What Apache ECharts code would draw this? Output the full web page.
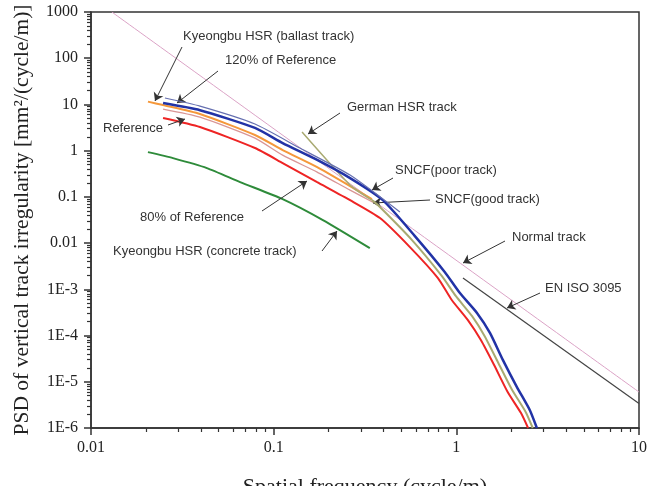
<!DOCTYPE html>
<html>
<head>
<meta charset="utf-8">
<script src="https://cdn.jsdelivr.net/npm/echarts@6/dist/echarts.min.js"></script>
<style>
  html, body { margin: 0; padding: 0; background: #fff; }
  #chart { width: 647px; height: 486px; }
</style>
</head>
<body>
<div id="chart"></div>
<script>
// axis ticks
const xTickValues = [0.01, 0.1, 1, 10];
const xTickLabels = ['0.01', '0.1', '1', '10'];
const yTickValues = [1e-6, 1e-5, 1e-4, 1e-3, 0.01, 0.1, 1, 10, 100, 1000];
const yTickLabels = ['1E-6', '1E-5', '1E-4', '1E-3', '0.01', '0.1', '1', '10', '100', '1000'];

// curves: spatial frequency (cycle/m) / PSD (mm2/(cycle/m))
const ref120Freq = [0.0248, 0.0395, 0.079, 0.112, 0.173, 0.262, 0.396, 0.593, 0.866, 1.046, 1.30, 1.53, 1.80, 2.15, 2.53, 2.76];
const ref120Psd = [10.7, 7.5, 3.1, 1.46, 0.63, 0.255, 0.085, 0.0142, 2.35e-3, 8.3e-4, 3.05e-4, 1.13e-4, 2.94e-5, 7.6e-6, 2.4e-6, 1e-6];

const ref80Freq = [0.0248, 0.0395, 0.079, 0.112, 0.173, 0.262, 0.382, 0.557, 0.793, 0.946, 1.157, 1.365, 1.61, 1.91, 2.26, 2.47];
const ref80Psd = [5.1, 3.25, 1.14, 0.54, 0.209, 0.085, 0.0348, 8.2e-3, 1.75e-3, 5.8e-4, 2.15e-4, 7.9e-5, 2.3e-5, 6e-6, 2.1e-6, 1e-6];

const refFreq = [0.0248, 0.0395, 0.079, 0.112, 0.173, 0.262, 0.358];
const refPsd = [7.9, 5.3, 1.87, 0.80, 0.344, 0.14, 0.073];

const ballastFreq = [0.0205, 0.0248, 0.0395, 0.079, 0.112, 0.173, 0.262, 0.345];
const ballastPsd = [11.5, 9.7, 6.2, 2.18, 1.03, 0.44, 0.171, 0.0895];

const concreteFreq = [0.0205, 0.0281, 0.0431, 0.0655, 0.112, 0.186, 0.336];
const concretePsd = [0.93, 0.69, 0.42, 0.209, 0.0895, 0.0315, 7.8e-3];

const sncfPoorFreq = [0.0254, 0.0395, 0.079, 0.139, 0.262, 0.491];
const sncfPoorPsd = [13.8, 9.2, 3.77, 1.14, 0.296, 0.047];

const germanFreq = [0.143, 0.262, 0.345];
const germanPsd = [2.53, 0.18, 0.085];

const sncfGoodFreq = [0.345, 0.372, 0.572, 0.834, 0.995, 1.22, 1.43, 1.69, 2.01, 2.40, 2.62];
const sncfGoodPsd = [0.085, 0.0665, 0.0116, 1.93e-3, 7.1e-4, 2.63e-4, 9.7e-5, 2.65e-5, 6.9e-6, 2.2e-6, 1e-6];

const normalFreq = [0.013, 10];
const normalPsd = [1000, 6e-6];

const isoFreq = [1.087, 10];
const isoPsd = [1.75e-3, 3.4e-6];

// annotation texts with arrows (pixel layout)
const notes = [
  { text: 'Kyeongbu HSR (ballast track)', at: [183, 36], from: [182, 47], to: [155, 101] },
  { text: '120% of Reference', at: [225, 60], from: [218, 71], to: [177, 103] },
  { text: 'Reference', at: [103, 128], from: [168, 125], to: [185, 119] },
  { text: 'German HSR track', at: [347, 107], from: [340, 113], to: [308, 134] },
  { text: 'SNCF(poor track)', at: [395, 170], from: [393, 178], to: [372, 190] },
  { text: 'SNCF(good track)', at: [435, 199], from: [430, 200], to: [373, 203] },
  { text: '80% of Reference', at: [140, 217], from: [262, 211], to: [307, 181] },
  { text: 'Kyeongbu HSR (concrete track)', at: [113, 251], from: [322, 251], to: [337, 231] },
  { text: 'Normal track', at: [512, 237], from: [505, 241], to: [463, 263] },
  { text: 'EN ISO 3095', at: [545, 288], from: [540, 293], to: [507, 308] }
];

const lg = Math.log10;
const pairs = (f, p) => f.map((v, i) => [lg(v), lg(p[i])]);

// minor ticks at 2..9 of every decade
const minorTicks = (lo, hi) => {
  const out = [];
  for (let d = lo; d < hi; d++) {
    for (let k = 2; k <= 9; k++) out.push(d + lg(k));
  }
  return out;
};

const labelFor = (values, labels) => v => {
  const i = values.findIndex(t => Math.abs(lg(t) - v) < 1e-6);
  return i < 0 ? '' : labels[i];
};

const serif = 'Liberation Serif';
const sans = 'Liberation Sans';
const axisColor = '#333';

const line = (name, f, p, color, width, z) => ({
  type: 'line',
  name: name,
  data: pairs(f, p),
  showSymbol: false,
  smooth: 0.2,
  lineStyle: { color: color, width: width },
  z: z
});

const chart = echarts.init(document.getElementById('chart'));

chart.setOption({
  animation: false,
  grid: {
    left: 91, right: 8, top: 12, bottom: 58,
    containLabel: false, outerBoundsMode: 'none',
    show: true, borderColor: axisColor, borderWidth: 1.5
  },
  xAxis: [
    {
      type: 'value', min: -2, max: 1,
      name: 'Spatial frequency (cycle/m)',
      nameLocation: 'middle', nameGap: 48,
      nameTextStyle: { fontFamily: serif, fontSize: 22, color: '#222' },
      axisLine: { onZero: false, lineStyle: { color: axisColor, width: 1.5 } },
      axisTick: { inside: false, length: 7, lineStyle: { color: axisColor, width: 1.5 }, customValues: xTickValues.map(lg) },
      axisLabel: { margin: 12, fontFamily: serif, fontSize: 16, color: '#222', customValues: xTickValues.map(lg), formatter: labelFor(xTickValues, xTickLabels) },
      splitLine: { show: false }
    },
    {
      type: 'value', min: -2, max: 1, position: 'bottom',
      axisLine: { show: false, onZero: false },
      axisTick: { inside: false, length: 4, lineStyle: { color: axisColor, width: 1.2 }, customValues: minorTicks(-2, 1) },
      axisLabel: { show: false },
      splitLine: { show: false }
    }
  ],
  yAxis: [
    {
      type: 'value', min: -6, max: 3,
      name: 'PSD of vertical track irregularity [mm\u00b2/(cycle/m)]',
      nameLocation: 'middle', nameGap: 58,
      nameTextStyle: { fontFamily: serif, fontSize: 21.5, color: '#222' },
      axisLine: { show: true, onZero: false, lineStyle: { color: axisColor, width: 1.5 } },
      axisTick: { show: true, inside: false, length: 7, lineStyle: { color: axisColor, width: 1.5 }, customValues: yTickValues.map(lg) },
      axisLabel: { margin: 13, fontFamily: serif, fontSize: 16, color: '#222', customValues: yTickValues.map(lg), formatter: labelFor(yTickValues, yTickLabels) },
      splitLine: { show: false }
    },
    {
      type: 'value', min: -6, max: 3, position: 'left',
      axisLine: { show: false, onZero: false },
      axisTick: { show: true, inside: false, length: 4, lineStyle: { color: axisColor, width: 1.2 }, customValues: minorTicks(-6, 3) },
      axisLabel: { show: false },
      splitLine: { show: false }
    }
  ],
  series: [
    line('Normal track', normalFreq, normalPsd, '#dba3c6', 1, 1),
    line('EN ISO 3095', isoFreq, isoPsd, '#444444', 1.2, 2),
    line('Kyeongbu HSR (concrete track)', concreteFreq, concretePsd, '#2e8b3a', 2, 3),
    line('Reference', refFreq, refPsd, '#d99595', 1.3, 3),
    line('80% of Reference', ref80Freq, ref80Psd, '#ee2424', 2, 4),
    line('Kyeongbu HSR (ballast track)', ballastFreq, ballastPsd, '#f5983a', 2, 4),
    line('German HSR track', germanFreq, germanPsd, '#a9aa72', 1.5, 5),
    line('SNCF(good track)', sncfGoodFreq, sncfGoodPsd, '#a9aa72', 2, 5),
    line('120% of Reference', ref120Freq, ref120Psd, '#2233a6', 2.5, 6),
    line('SNCF(poor track)', sncfPoorFreq, sncfPoorPsd, '#6670b0', 1.2, 7),
    {
      type: 'line',
      name: 'arrows',
      data: [],
      z: 8,
      markLine: {
        silent: true,
        symbol: ['none', 'arrow'],
        symbolSize: 8,
        label: { show: false },
        lineStyle: { color: '#333', width: 1, type: 'solid' },
        data: notes.map(n => [{ x: n.from[0], y: n.from[1] }, { x: n.to[0], y: n.to[1] }])
      }
    }
  ],
  graphic: notes.map(n => ({
    type: 'text',
    x: n.at[0],
    y: n.at[1],
    z: 10,
    style: {
      text: n.text,
      fontFamily: sans,
      fontSize: 13,
      fill: '#333',
      align: 'left',
      verticalAlign: 'middle'
    }
  }))
});
</script>
</body>
</html>
